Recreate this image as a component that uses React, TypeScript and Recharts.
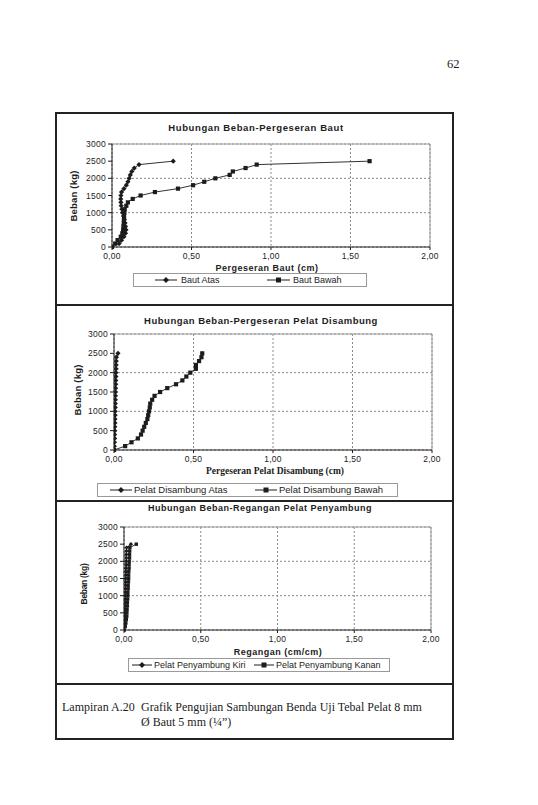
import React from "react";
import { LineChart, Line, XAxis, YAxis, CartesianGrid, ReferenceLine } from "recharts";

// load steps (kg), same for every series
const bebanKg = [
  0, 100, 200, 300, 400, 500, 600, 700, 800, 900, 1000, 1100, 1200,
  1300, 1400, 1500, 1600, 1700, 1800, 1900, 2000, 2100, 2200, 2300, 2400, 2500,
];

// chart 1: Pergeseran Baut (cm)
const bautAtas = [
  0, 0.045, 0.06, 0.075, 0.085, 0.088, 0.085, 0.082, 0.078, 0.072, 0.066, 0.062, 0.058,
  0.056, 0.055, 0.056, 0.06, 0.075, 0.09, 0.1, 0.108, 0.115, 0.125, 0.14, 0.17, 0.385,
];
const bautBawah = [
  0, 0.02, 0.035, 0.055, 0.065, 0.07, 0.072, 0.074, 0.075, 0.076, 0.078, 0.08, 0.09,
  0.1, 0.13, 0.18, 0.27, 0.415, 0.51, 0.58, 0.65, 0.74, 0.76, 0.84, 0.91, 1.62,
];

// chart 2: Pergeseran Pelat Disambung (cm)
const pelatAtas = [
  0, 0.002, 0.003, 0.004, 0.004, 0.005, 0.005, 0.006, 0.006, 0.007, 0.007, 0.008, 0.008,
  0.009, 0.009, 0.01, 0.01, 0.011, 0.011, 0.012, 0.012, 0.013, 0.013, 0.014, 0.015, 0.025,
];
const pelatBawah = [
  0, 0.07, 0.11, 0.15, 0.17, 0.18, 0.19, 0.2, 0.21, 0.215, 0.22, 0.225, 0.228,
  0.24, 0.255, 0.29, 0.335, 0.39, 0.43, 0.455, 0.48, 0.515, 0.515, 0.535, 0.55, 0.555,
];

// chart 3: Regangan (cm/cm)
const penyambungKiri = [
  0, 0.002, 0.004, 0.005, 0.006, 0.006, 0.007, 0.007, 0.008, 0.008, 0.009, 0.009, 0.01,
  0.01, 0.011, 0.011, 0.012, 0.012, 0.013, 0.014, 0.014, 0.015, 0.015, 0.016, 0.017, 0.045,
];
const penyambungKanan = [
  0.002, 0.008, 0.012, 0.015, 0.018, 0.019, 0.02, 0.022, 0.022, 0.024, 0.025, 0.025, 0.027,
  0.027, 0.029, 0.03, 0.03, 0.031, 0.033, 0.033, 0.034, 0.036, 0.036, 0.037, 0.038, 0.08,
];

const xTicks = [0, 0.5, 1, 1.5, 2];
const yTicks = [0, 500, 1000, 1500, 2000, 2500, 3000];

const SANS = "'Liberation Sans', Arial, sans-serif";
const SERIF = "'Liberation Serif', 'Times New Roman', serif";
const INK = "#1c1c1c";

const rows = (xs: number[]) => xs.map((x, i) => ({ x, y: bebanKg[i] }));
const fmtX = (v: number) => v.toFixed(2).replace(".", ",");

const diamond = (s: number) => (p: any) => {
  const { cx, cy, index } = p;
  if (cx == null || cy == null) return <g key={index} />;
  return (
    <polygon
      key={index}
      points={`${cx},${cy - s} ${cx + s},${cy} ${cx},${cy + s} ${cx - s},${cy}`}
      fill={INK}
    />
  );
};

const square = (s: number) => (p: any) => {
  const { cx, cy, index } = p;
  if (cx == null || cy == null) return <g key={index} />;
  return <rect key={index} x={cx - s} y={cy - s} width={s * 2} height={s * 2} fill={INK} />;
};

function Panel({ left, top, right, bottom, a, b, ms }: any) {
  const w = right - left;
  const h = bottom - top;
  const tick = { fontSize: 8.5, fill: INK, fontFamily: SANS, letterSpacing: 0.3 };
  return (
    <div style={{ position: "absolute", left: left - 50, top: top - 10 }}>
      <LineChart width={w + 60} height={h + 30} margin={{ top: 10, right: 10, bottom: 0, left: 0 }}>
        <CartesianGrid strokeDasharray="2 2" stroke="#8a8a8a" />
        <ReferenceLine y={3000} stroke="#9a9a9a" />
        <ReferenceLine x={2} stroke="#9a9a9a" />
        <XAxis
          type="number"
          dataKey="x"
          domain={[0, 2]}
          ticks={xTicks}
          tickFormatter={fmtX}
          height={20}
          tickSize={3}
          tickMargin={3}
          tick={tick}
          stroke={INK}
          allowDataOverflow
        />
        <YAxis
          type="number"
          domain={[0, 3000]}
          ticks={yTicks}
          width={50}
          tickSize={4}
          tickMargin={2}
          tick={tick}
          stroke={INK}
        />
        <Line
          data={rows(a)}
          dataKey="y"
          stroke="#333"
          strokeWidth={1}
          dot={diamond(ms)}
          isAnimationActive={false}
        />
        <Line
          data={rows(b)}
          dataKey="y"
          stroke="#333"
          strokeWidth={1}
          dot={square(ms - 0.5)}
          isAnimationActive={false}
        />
      </LineChart>
    </div>
  );
}

function T({ x, y, size, bold, family, spacing, rotate, children }: any) {
  return (
    <div
      style={{
        position: "absolute",
        left: x,
        top: y,
        transform: `translate(-50%, -50%)${rotate ? " rotate(-90deg)" : ""}`,
        fontSize: size,
        fontWeight: bold ? 700 : 400,
        fontFamily: family || SANS,
        letterSpacing: spacing || 0,
        lineHeight: 1,
        whiteSpace: "nowrap",
        color: INK,
      }}
    >
      {children}
    </div>
  );
}

function Sample({ x, y, w, kind }: any) {
  return (
    <svg style={{ position: "absolute", left: x, top: y - 4 }} width={w} height={8}>
      <line x1={0} y1={4} x2={w} y2={4} stroke={INK} strokeWidth={1} />
      {kind === "d" ? (
        <polygon points={`${w / 2},1 ${w / 2 + 3},4 ${w / 2},7 ${w / 2 - 3},4`} fill={INK} />
      ) : (
        <rect x={w / 2 - 2.5} y={1.5} width={5} height={5} fill={INK} />
      )}
    </svg>
  );
}

function Legend({ box, items, size }: any) {
  return (
    <>
      <div
        style={{
          position: "absolute",
          left: box[0],
          top: box[1],
          width: box[2] - box[0],
          height: box[3] - box[1],
          border: "1px solid #9a9a9a",
          boxSizing: "border-box",
        }}
      />
      {items.map((it: any, i: number) => (
        <React.Fragment key={i}>
          <Sample x={it.lx} y={(box[1] + box[3]) / 2} w={it.lw} kind={it.kind} />
          <div
            style={{
              position: "absolute",
              left: it.tx,
              top: (box[1] + box[3]) / 2,
              transform: "translateY(-50%)",
              fontSize: size,
              fontFamily: SANS,
              lineHeight: 1,
              whiteSpace: "nowrap",
              color: INK,
            }}
          >
            {it.label}
          </div>
        </React.Fragment>
      ))}
    </>
  );
}

export default function App() {
  return (
    <div
      style={{
        position: "absolute",
        left: 0,
        top: 0,
        width: 538,
        height: 805,
        background: "#fff",
        overflow: "hidden",
      }}
    >
      <div style={{ position: "absolute", left: 447, top: 57, fontFamily: SERIF, fontSize: 12.5, color: INK }}>
        62
      </div>

      {/* frame + separators */}
      <div
        style={{
          position: "absolute",
          left: 55,
          top: 112,
          width: 399,
          height: 628,
          border: "2px solid #222",
          boxSizing: "border-box",
        }}
      />
      {[304, 500, 683].map((y) => (
        <div key={y} style={{ position: "absolute", left: 55, top: y, width: 399, height: 2, background: "#222" }} />
      ))}

      {/* chart 1 */}
      <T x={256} y={128} size={9.5} bold spacing={0.6}>Hubungan Beban-Pergeseran Baut</T>
      <T x={74} y={196} size={9.5} bold rotate spacing={0.2}>Beban (kg)</T>
      <Panel left={112} top={144} right={430} bottom={247} a={bautAtas} b={bautBawah} ms={2.6} />
      <T x={267} y={267.5} size={9} bold spacing={0.5}>Pergeseran Baut (cm)</T>
      <Legend
        box={[133, 273, 367, 287]}
        size={9}
        items={[
          { lx: 155, lw: 22, kind: "d", tx: 181, label: "Baut Atas" },
          { lx: 267, lw: 23, kind: "s", tx: 293, label: "Baut Bawah" },
        ]}
      />

      {/* chart 2 */}
      <T x={261} y={321} size={9.5} bold spacing={0.5}>Hubungan Beban-Pergeseran Pelat Disambung</T>
      <T x={78} y={390} size={9.5} bold rotate spacing={0.2}>Beban (kg)</T>
      <Panel left={114} top={334} right={432} bottom={450} a={pelatAtas} b={pelatBawah} ms={2.6} />
      <T x={275} y={471.5} size={9.5} bold family={SERIF}>Pergeseran Pelat Disambung (cm)</T>
      <Legend
        box={[97, 483, 398, 497]}
        size={9.5}
        items={[
          { lx: 110, lw: 22, kind: "d", tx: 134, label: "Pelat Disambung Atas" },
          { lx: 255, lw: 22, kind: "s", tx: 279, label: "Pelat Disambung Bawah" },
        ]}
      />

      {/* chart 3 */}
      <T x={260} y={508} size={9} bold spacing={0.5}>Hubungan Beban-Regangan Pelat Penyambung</T>
      <T x={84} y={584} size={8.5} bold rotate spacing={-0.3}>Beban (kg)</T>
      <Panel left={124} top={527} right={431} bottom={630} a={penyambungKiri} b={penyambungKanan} ms={2.2} />
      <T x={278} y={651.5} size={9} bold spacing={0.5}>Regangan (cm/cm)</T>
      <Legend
        box={[128, 658, 390, 672]}
        size={9}
        items={[
          { lx: 132, lw: 20, kind: "d", tx: 154, label: "Pelat Penyambung Kiri" },
          { lx: 254, lw: 20, kind: "s", tx: 276, label: "Pelat Penyambung Kanan" },
        ]}
      />

      {/* caption */}
      <div style={{ position: "absolute", left: 62, top: 700, fontFamily: SERIF, fontSize: 12, color: INK, lineHeight: "15px" }}>
        Lampiran A.20
      </div>
      <div style={{ position: "absolute", left: 141, top: 700, fontFamily: SERIF, fontSize: 12, color: INK, lineHeight: "15px" }}>
        Grafik Pengujian Sambungan Benda Uji Tebal Pelat 8 mm
        <br />Ø Baut 5 mm (¼”)
      </div>
    </div>
  );
}
